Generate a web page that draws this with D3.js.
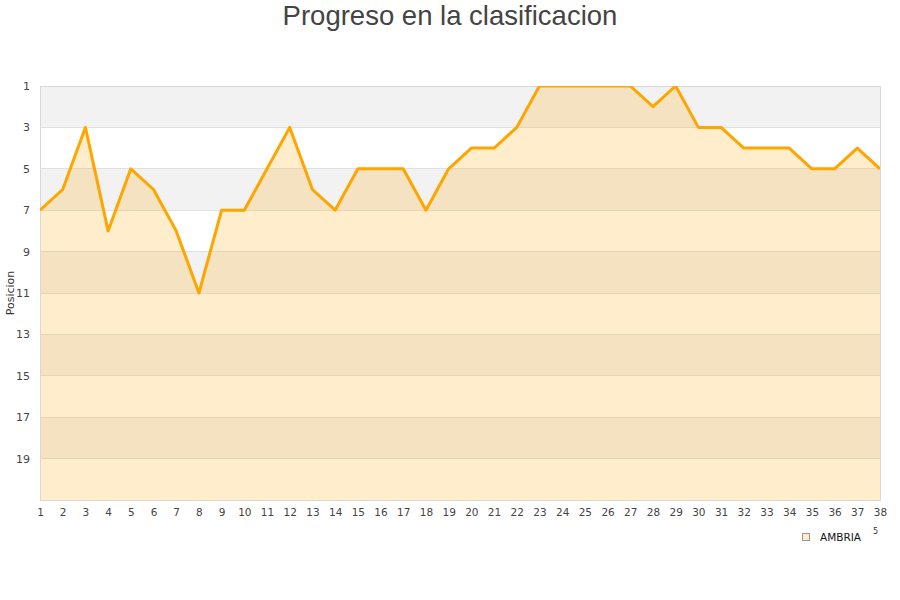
<!DOCTYPE html>
<html>
<head>
<meta charset="utf-8">
<script src="https://cdn.jsdelivr.net/npm/d3@7"></script>
<style>
html,body{margin:0;padding:0;background:#fff;}
svg{display:block;}
</style>
</head>
<body>
<div id="chart"></div>
<script>
const title = "Progreso en la clasificacion";
const yLabel = "Posicion";
const seriesName = "AMBRIA";
const rounds = d3.range(1, 39);
const positions = [7,6,3,8,5,6,8,11,7,7,5,3,6,7,5,5,5,7,5,4,4,3,1,1,1,1,1,2,1,3,3,4,4,4,5,5,4,5];
const yTicks = [1,3,5,7,9,11,13,15,17,19];

const W = 900, H = 600;
const svg = d3.select("#chart").append("svg").attr("width", W).attr("height", H);

const x = d3.scaleLinear().domain([1, 38]).range([40, 880]);
const y = d3.scaleLinear().domain([1, 21]).range([86, 500]);

// bands
const bands = d3.range(1, 21, 2);
svg.append("g").selectAll("rect").data(bands).join("rect")
  .attr("x", x(1)).attr("width", x(38) - x(1))
  .attr("y", d => y(d)).attr("height", d => y(d + 2) - y(d))
  .attr("fill", (d, i) => i % 2 === 0 ? "#f2f2f2" : "#ffffff");

// grid lines
svg.append("g").selectAll("line").data(yTicks.concat([21])).join("line")
  .attr("x1", x(1)).attr("x2", x(38))
  .attr("y1", d => y(d)).attr("y2", d => y(d))
  .attr("stroke", "#e0e0e0").attr("stroke-width", 1)
  .attr("shape-rendering", "crispEdges");

svg.append("defs").append("clipPath").attr("id", "clip")
  .append("rect").attr("x", x(1)).attr("y", y(1)).attr("width", x(38) - x(1)).attr("height", y(21) - y(1));

const data = rounds.map((r, i) => ({r, p: positions[i]}));

svg.append("path").datum(data)
  .attr("clip-path", "url(#clip)")
  .attr("fill", "#ffa500").attr("fill-opacity", 0.2)
  .attr("d", d3.area().x(d => x(d.r)).y0(y(21)).y1(d => y(d.p)));

// border
svg.append("rect").attr("x", x(1)).attr("y", y(1)).attr("width", x(38) - x(1)).attr("height", y(21) - y(1))
  .attr("fill", "none").attr("stroke", "#d8d8d8").attr("shape-rendering", "crispEdges");

svg.append("path").datum(data)
  .attr("clip-path", "url(#clip)")
  .attr("fill", "none").attr("stroke", "#ffa500").attr("stroke-width", 3)
  .attr("stroke-linejoin", "round")
  .attr("d", d3.line().x(d => x(d.r)).y(d => y(d.p)));

// axes
const yAxis = d3.axisLeft(y).tickValues(yTicks).tickSize(0).tickPadding(10);
const gy = svg.append("g").attr("transform", `translate(${x(1)},0)`).call(yAxis);
gy.select(".domain").remove();
gy.selectAll("text").attr("font-family", "DejaVu Sans, sans-serif").attr("font-size", 11).attr("fill", "#444");

const xAxis = d3.axisBottom(x).tickValues(rounds).tickSize(0).tickPadding(9).tickFormat(d3.format("d"));
const gx = svg.append("g").attr("transform", `translate(0,${y(21)})`).call(xAxis);
gx.select(".domain").remove();
gx.selectAll("text").attr("font-family", "DejaVu Sans, sans-serif").attr("font-size", 10.5).attr("fill", "#444");

// title
svg.append("text").attr("x", 450).attr("y", 25).attr("text-anchor", "middle")
  .attr("font-family", "Liberation Sans, Arial, sans-serif").attr("font-size", 27.5).attr("fill", "#444")
  .text(title);

// y label
svg.append("text").attr("transform", `translate(14,${(y(1)+y(21))/2}) rotate(-90)`)
  .attr("text-anchor", "middle")
  .attr("font-family", "DejaVu Sans, sans-serif").attr("font-size", 11).attr("fill", "#333")
  .text(yLabel);

// legend
const lg = svg.append("g");
lg.append("rect").attr("x", 802.5).attr("y", 533.5).attr("width", 7).attr("height", 7)
  .attr("fill", "#fdebcc").attr("stroke", "#999").attr("stroke-width", 1);
lg.append("text").attr("x", 820).attr("y", 541)
  .attr("font-family", "DejaVu Sans, sans-serif").attr("font-size", 10.5).attr("fill", "#111")
  .text(seriesName);
lg.append("text").attr("x", 873).attr("y", 534)
  .attr("font-family", "DejaVu Sans, sans-serif").attr("font-size", 8).attr("fill", "#333")
  .text("5");
</script>
</body>
</html>
